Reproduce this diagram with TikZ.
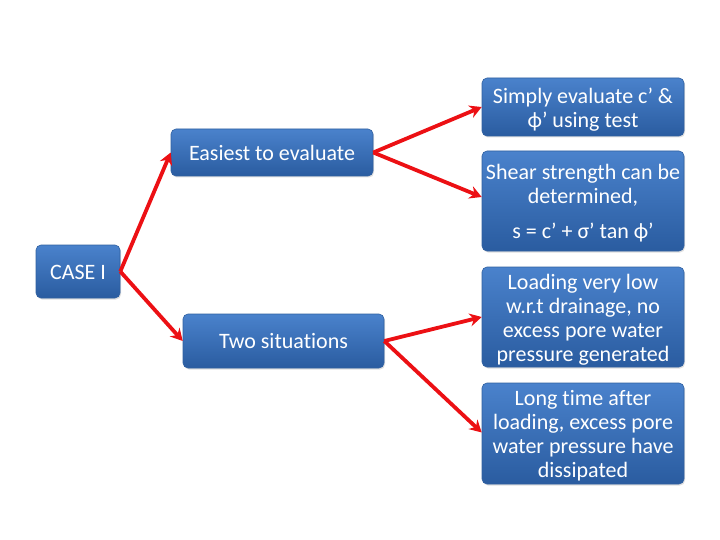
\documentclass[tikz,border=0pt]{standalone}
\usepackage{fontspec}
\setmainfont{Carlito}[Ligatures=NoCommon]
\usetikzlibrary{arrows.meta,shadows}
\definecolor{boxtop}{RGB}{74,130,204}
\definecolor{boxbot}{RGB}{42,92,160}
\definecolor{boxline}{RGB}{48,96,160}
\definecolor{arr}{RGB}{236,16,20}
\tikzset{
  box/.style={rounded corners=5pt, top color=boxtop, bottom color=boxbot, draw=boxline, line width=0.6pt,
    inner sep=0pt,
    drop shadow={shadow xshift=1pt, shadow yshift=-1.5pt, opacity=0.25}},
  boxtext/.style={text=white, align=center, inner sep=0pt, font=\fontsize{22}{24}\selectfont, yshift=-2.5pt},
  conn/.style={draw=arr, line width=3.8pt, -{Stealth[length=12pt,width=13pt,inset=4pt]}, line join=miter}
}
\begin{document}
\begin{tikzpicture}[x=1pt,y=-1pt]
\useasboundingbox (0,0) rectangle (720,540);
\node[box, minimum width=84pt, minimum height=53pt] (case) at (78,271.5) {};
\node[boxtext, yshift=2pt] (caset) at (case.center) {CASE I};
\node[box, minimum width=202pt, minimum height=47pt] (easy) at (272,152.5) {};
\node[boxtext, yshift=2pt] (easyt) at (easy.center) {Easiest to evaluate};
\node[box, minimum width=201pt, minimum height=54pt] (two) at (283.5,341) {};
\node[boxtext, yshift=2pt] (twot) at (two.center) {Two situations};
\node[box, minimum width=202pt, minimum height=58pt] (simply) at (583,107) {};
\node[boxtext] (simplyt) at (simply.center) {Simply evaluate c’ \&\\ϕ’ using test};
\node[box, minimum width=202pt, minimum height=100pt] (shear) at (583,201) {};
\node[boxtext] (sheart) at (shear.center) {Shear strength can be\\determined,\\[11pt] s = c’ + σ’ tan ϕ’};
\node[box, minimum width=202pt, minimum height=100pt] (load) at (583,317) {};
\node[boxtext] (loadt) at (load.center) {Loading very low\\w.r.t drainage, no\\excess pore water\\pressure generated};
\node[box, minimum width=202pt, minimum height=101pt] (long) at (583,433.5) {};
\node[boxtext] (longt) at (long.center) {Long time after\\loading, excess pore\\water pressure have\\dissipated};
\coordinate (sheartip) at ([yshift=4pt]shear.west);
\coordinate (longtip) at ([yshift=1pt]long.west);
\draw[conn] (case.east) -- (easy.west);
\draw[conn] (case.east) -- (two.west);
\draw[conn] (easy.east) -- (simply.west);
\draw[conn] (easy.east) -- (sheartip);
\draw[conn] (two.east) -- (load.west);
\draw[conn] (two.east) -- (longtip);
\end{tikzpicture}
\end{document}
